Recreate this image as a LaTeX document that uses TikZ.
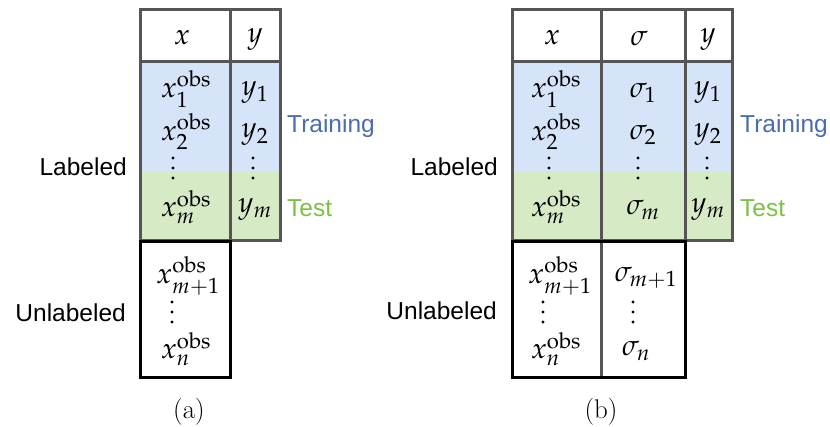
\documentclass[tikz,border=0pt]{standalone}
\usepackage{amsmath}
\usepackage{mathpazo}
\usepackage[no-math]{fontspec}
\newfontfamily\labelfont{Liberation Sans}

\definecolor{trainfill}{HTML}{D6E4F9}
\definecolor{testfill}{HTML}{D6EAC6}
\definecolor{trainink}{HTML}{4A6CB0}
\definecolor{testink}{HTML}{7AC143}
\definecolor{frameink}{HTML}{555555}

\newcommand{\obsx}[1]{x^{\mathrm{obs}}_{#1}}

\tikzset{
  trainband/.style={fill=trainfill},
  testband/.style={fill=testfill},
  grayframe/.style={draw=frameink, line width=3pt},
  blackframe/.style={draw=black, line width=3pt},
  cell/.style={inner sep=0pt, font=\fontsize{29}{34}\selectfont},
  sidelabel/.style={inner sep=0pt, font=\labelfont\fontsize{24.5}{28}\selectfont},
  splitlabel/.style={inner sep=0pt, anchor=west, font=\labelfont\fontsize{24.5}{28}\selectfont},
  caption/.style={inner sep=0pt, font=\fontsize{27}{31}\selectfont},
  % column of three dots (vertical ellipsis)
  vdotcol/.pic={\fill (0,-10) circle (1.6pt) (0,0) circle (1.6pt) (0,10) circle (1.6pt);}
}

\begin{document}
\begin{tikzpicture}[x=1pt, y=-1pt]
\useasboundingbox (0,0) rectangle (830,427);

% ---------------- panel (a) ----------------
\fill[trainband] (140,62) rectangle (280,172);
\fill[testband]  (140,172) rectangle (280,241);
\draw[grayframe] (140,10) rectangle (280,241);
\draw[grayframe] (230,10) -- (230,241);
\draw[grayframe] (140,62) -- (280,62);
\draw[blackframe] (140,242) rectangle (230,378);

\node[cell] (ahx) at (182,38) {$x$};
\node[cell] (ahy) at (255,40) {$y$};
\node[cell] (ax1) at (186,89) {$\obsx{1}$};
\node[cell] (ax2) at (186,132) {$\obsx{2}$};
\pic at (173,168) {vdotcol};
\node[cell] (axm) at (186,207) {$\obsx{m}$};
\node[cell] (ay1) at (255,93) {$y_1$};
\node[cell] (ay2) at (255,135) {$y_2$};
\pic at (253,168) {vdotcol};
\node[cell] (aym) at (255,210) {$y_m$};
\node[cell] (axm1) at (188,276) {$\obsx{m+1}$};
\pic at (172,312) {vdotcol};
\node[cell] (axn) at (186,349) {$\obsx{n}$};

\node[sidelabel, anchor=east] (alab) at (127,167) {Labeled};
\node[sidelabel, anchor=east] (aunl) at (126,313) {Unlabeled};
\node[splitlabel, trainink] (atrain) at (287,126) {Training};
\node[splitlabel, testink] (atest) at (287,208) {Test};
\node[caption] (capa) at (189,412) {(a)};

% ---------------- panel (b) ----------------
\fill[trainband] (512,62) rectangle (732,172);
\fill[testband]  (512,172) rectangle (732,241);
\draw[grayframe] (512,10) rectangle (732,241);
\draw[grayframe] (601,10) -- (601,241);
\draw[grayframe] (685,10) -- (685,241);
\draw[grayframe] (512,62) -- (732,62);
\draw[grayframe] (601,242) -- (601,378);
\draw[blackframe] (512,242) rectangle (685,378);

\node[cell] (bhx) at (552,38) {$x$};
\node[cell] (bhs) at (639,38) {$\sigma$};
\node[cell] (bhy) at (708,40) {$y$};
\node[cell] (bx1) at (556,89) {$\obsx{1}$};
\node[cell] (bx2) at (556,132) {$\obsx{2}$};
\pic at (549,168) {vdotcol};
\node[cell] (bxm) at (556,207) {$\obsx{m}$};
\node[cell] (bs1) at (643,93) {$\sigma_1$};
\node[cell] (bs2) at (643,135) {$\sigma_2$};
\pic at (638,168) {vdotcol};
\node[cell] (bsm) at (643,210) {$\sigma_m$};
\node[cell] (by1) at (708,93) {$y_1$};
\node[cell] (by2) at (708,135) {$y_2$};
\pic at (707,168) {vdotcol};
\node[cell] (bym) at (708,210) {$y_m$};
\node[cell] (bxm1) at (560,276) {$\obsx{m+1}$};
\pic at (543,312) {vdotcol};
\node[cell] (bxn) at (556,349) {$\obsx{n}$};
\node[cell] (bsm1) at (646,278) {$\sigma_{m+1}$};
\pic at (633,312) {vdotcol};
\node[cell] (bsn) at (636,351) {$\sigma_n$};

\node[sidelabel, anchor=east] (blab) at (498,167) {Labeled};
\node[sidelabel, anchor=east] (bunl) at (497,311) {Unlabeled};
\node[splitlabel, trainink] (btrain) at (740,126) {Training};
\node[splitlabel, testink] (btest) at (740,208) {Test};
\node[caption] (capb) at (601,412) {(b)};
\end{tikzpicture}
\end{document}
